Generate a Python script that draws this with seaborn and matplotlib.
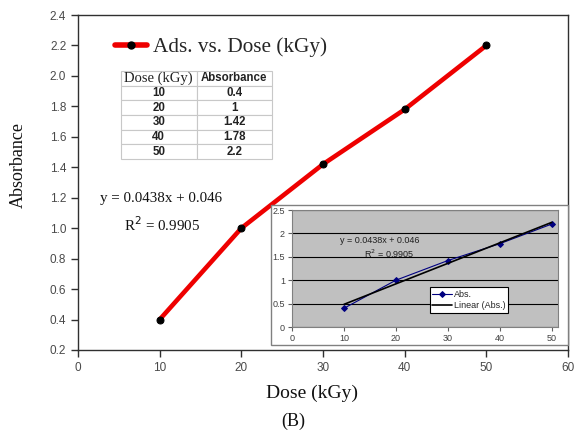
import numpy as np
import pandas as pd
import matplotlib
matplotlib.use("Agg")
import matplotlib.pyplot as plt
import seaborn as sns
from matplotlib.patches import Rectangle
from matplotlib.lines import Line2D

dose = [10, 20, 30, 40, 50]
absorbance = [0.4, 1.0, 1.42, 1.78, 2.2]
table_dose = ["10", "20", "30", "40", "50"]
table_abs = ["0.4", "1", "1.42", "1.78", "2.2"]
x_ticks = [0, 10, 20, 30, 40, 50, 60]
y_ticks = [0.2, 0.4, 0.6, 0.8, 1.0, 1.2, 1.4, 1.6, 1.8, 2.0, 2.2, 2.4]
inset_x_ticks = [0, 10, 20, 30, 40, 50]
inset_y_ticks = [0, 0.5, 1, 1.5, 2, 2.5]

df = pd.DataFrame({"Dose": dose, "Abs": absorbance})
slope, intercept = np.polyfit(dose, absorbance, 1)
pred = np.polyval([slope, intercept], dose)
r2 = 1 - np.sum((np.array(absorbance) - pred) ** 2) / np.sum((np.array(absorbance) - np.mean(absorbance)) ** 2)
df["Fit"] = pred

sns.set_theme(style="white")
plt.rcParams["font.family"] = ["Liberation Sans", "DejaVu Sans"]

SERIF = "Liberation Serif"
W, H = 574, 436
fig = plt.figure(figsize=(W / 100, H / 100), dpi=100)

def fx(px):
    return px / W

def fy(py):
    return 1 - py / H

# main axes: px left 78, right 568, top 15, bottom 350
ax = fig.add_axes([fx(78), fy(350), fx(568) - fx(78), fy(15) - fy(350)])
sns.lineplot(data=df, x="Dose", y="Abs", ax=ax, color="#ee0000", linewidth=3.3,
             marker="o", markersize=5, markerfacecolor="black", markeredgecolor="black",
             solid_joinstyle="round", solid_capstyle="round", legend=False)
ax.set_xlim(0, 60)
ax.set_ylim(0.2, 2.4)
ax.set_xticks(x_ticks)
ax.set_yticks(y_ticks)
ax.set_yticklabels([f"{v:.1f}" for v in y_ticks])
ax.tick_params(axis="both", direction="out", length=5, width=1, colors="#303030",
               labelsize=8.5, labelcolor="#4a4a4a", bottom=True, left=True)
for s in ax.spines.values():
    s.set_color("#303030")
    s.set_linewidth(1.0)
ax.set_xlabel("Dose (kGy)", fontfamily=SERIF, fontsize=14, color="#111111")
ax.xaxis.set_label_coords((312 - 78) / 490, -(385 - 350) / 335)
ax.set_ylabel("Absorbance", fontfamily=SERIF, fontsize=13, color="#111111")
ax.yaxis.set_label_coords(-(78 - 27) / 490, (350 - 165) / 335)

handle = Line2D([0], [0], color="#ee0000", linewidth=4, marker="o", markersize=5,
                markerfacecolor="black", markeredgecolor="black")
ax.legend([handle], ["Ads. vs. Dose (kGy)"], loc="center left",
          bbox_to_anchor=((115 - 78) / 490, (350 - 47) / 335),
          frameon=False, handlelength=1.5, handletextpad=0.3, borderpad=0, borderaxespad=0,
          prop={"family": SERIF, "size": 15.3})

# data table
rows = [[d, a] for d, a in zip(table_dose, table_abs)]
tbl = ax.table(cellText=rows, colLabels=["Dose (kGy)", "Absorbance"], cellLoc="center",
               bbox=[(121 - 78) / 490, (350 - 159) / 335, 151 / 490, 88 / 335])
tbl.auto_set_font_size(False)
for (r, c), cell in tbl.get_celld().items():
    cell.set_edgecolor("#c8c8c8")
    cell.set_linewidth(0.8)
    cell.set_text_props(fontsize=8.3, fontweight="bold", color="#222222")
    if r == 0 and c == 0:
        cell.set_text_props(fontfamily=SERIF, fontweight="normal", fontsize=10.5)

ax.text((100 - 78) / 490, (350 - 198) / 335, f"y = {slope:.4f}x + {intercept:.3f}",
        transform=ax.transAxes, fontfamily=SERIF, fontsize=10.8, color="#111111",
        ha="left", va="center")
ax.text((124 - 78) / 490, (350 - 225) / 335, f"R$^2$ = {r2:.4f}",
        transform=ax.transAxes, fontfamily=SERIF, fontsize=10.8, color="#111111",
        ha="left", va="center")

# inset frame
fig.patches.append(Rectangle((fx(271), fy(345)), fx(568) - fx(271), fy(205) - fy(345),
                             transform=fig.transFigure, facecolor="white",
                             edgecolor="#808080", linewidth=1.0, zorder=5))

# inset axes: px left 292, right 558, top 210, bottom 327
ax2 = fig.add_axes([fx(292), fy(327), fx(558) - fx(292), fy(210) - fy(327)], zorder=6)
ax2.set_facecolor("#c0c0c0")
sns.lineplot(data=df, x="Dose", y="Abs", ax=ax2, color="#000080", linewidth=0.8,
             marker="D", markersize=3, markeredgecolor="#000080", label="Abs.")
sns.lineplot(data=df, x="Dose", y="Fit", ax=ax2, color="black", linewidth=1.2,
             label="Linear (Abs.)")
ax2.set_xlim(0, 51.2)
ax2.set_ylim(0, 2.5)
ax2.set_xticks(inset_x_ticks)
ax2.set_yticks(inset_y_ticks)
ax2.set_yticklabels(["0", "0.5", "1", "1.5", "2", "2.5"])
ax2.set_xlabel("")
ax2.set_ylabel("")
ax2.grid(axis="y", color="black", linewidth=0.8)
ax2.set_axisbelow(True)
ax2.tick_params(axis="both", direction="out", length=3, width=0.8, colors="#606060",
                labelsize=6.5, labelcolor="#404040", bottom=True, left=True, pad=2)
for s in ax2.spines.values():
    s.set_color("#808080")
    s.set_linewidth(0.8)
leg = ax2.legend(loc="lower right", bbox_to_anchor=(0.83, 0.08), fontsize=6.5,
                 frameon=True, fancybox=False, edgecolor="black", framealpha=1,
                 handlelength=2.2, borderpad=0.3, labelspacing=0.3, handletextpad=0.2)
leg.get_frame().set_linewidth(0.8)
ax2.text(0.18, 0.74, f"y = {slope:.4f}x + {intercept:.3f}", transform=ax2.transAxes,
         fontsize=6.5, color="#202020", ha="left", va="center")
ax2.text(0.27, 0.625, f"R$^2$ = {r2:.4f}", transform=ax2.transAxes,
         fontsize=6.5, color="#202020", ha="left", va="center")

fig.text(fx(293), fy(421), "(B)", fontfamily=SERIF, fontsize=13, color="#111111",
         ha="center", va="center")

fig.savefig("out.png", dpi=100, facecolor="white")
